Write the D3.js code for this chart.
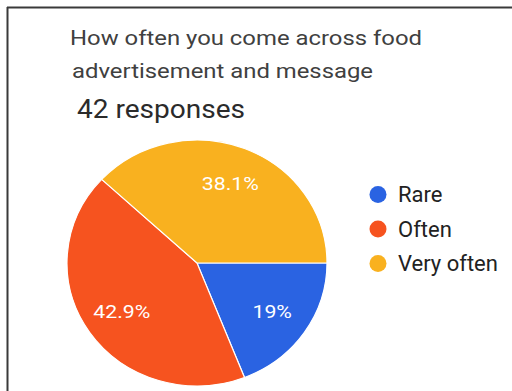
<!DOCTYPE html>
<html>
<head>
<meta charset="utf-8">
<script src="https://cdnjs.cloudflare.com/ajax/libs/d3/7.8.5/d3.min.js"></script>
<style>
  body { margin: 0; background: #fff; }
  text { font-family: Roboto, "Noto Sans", sans-serif; }
</style>
</head>
<body>
<div id="chart"></div>
<script>
// chart data
var categories = ["Rare", "Often", "Very often"];
var responses = [8, 18, 16];
var colors = ["#2a63e2", "#f6531f", "#f9b11f"];
var titleLines = ["How often you come across food", "advertisement and message"];
var subtitle = "42 responses";

var width = 512, height = 391;
var cx = 197, cy = 263, rx = 130, ry = 123;

var svg = d3.select("#chart").append("svg")
    .attr("width", width)
    .attr("height", height);

// frame (top + left edges of the screenshot card)
svg.append("line")
    .attr("x1", 7).attr("y1", 7.5).attr("x2", width).attr("y2", 7.5)
    .attr("stroke", "#3a3a3a").attr("stroke-width", 2);
svg.append("line")
    .attr("x1", 7.5).attr("y1", 7).attr("x2", 7.5).attr("y2", height)
    .attr("stroke", "#3a3a3a").attr("stroke-width", 2);

// titles (the screenshot is a bit stretched sideways, so fit widths)
var titleLayout = [{x: 70, y: 45, len: 352}, {x: 72, y: 78, len: 301}];
svg.selectAll(".title")
    .data(titleLines)
  .enter().append("text")
    .attr("class", "title")
    .attr("x", function(d, i) { return titleLayout[i].x; })
    .attr("y", function(d, i) { return titleLayout[i].y; })
    .attr("textLength", function(d, i) { return titleLayout[i].len; })
    .attr("lengthAdjust", "spacingAndGlyphs")
    .attr("fill", "#404040")
    .attr("font-size", 21)
    .text(function(d) { return d; });

svg.append("text")
    .attr("x", 77)
    .attr("y", 118)
    .attr("textLength", 168)
    .attr("lengthAdjust", "spacingAndGlyphs")
    .attr("fill", "#2b2b2b")
    .attr("font-size", 26)
    .text(subtitle);

var data = categories.map(function(c, i) { return {name: c, value: responses[i], color: colors[i]}; });
var total = d3.sum(responses);

var pie = d3.pie()
    .sort(null)
    .value(function(d) { return d.value; })
    .startAngle(Math.PI / 2)
    .endAngle(Math.PI / 2 + 2 * Math.PI);

var arcs = pie(data);

var arc = d3.arc().innerRadius(0).outerRadius(ry);

// slightly stretched pie, like the screenshot
var g = svg.append("g")
    .attr("transform", "translate(" + cx + "," + cy + ") scale(" + (rx / ry) + ",1)");

g.selectAll("path")
    .data(arcs)
  .enter().append("path")
    .attr("d", arc)
    .attr("fill", function(d) { return d.data.color; })
    .attr("stroke", "#fff")
    .attr("stroke-width", 1.2)
    .attr("vector-effect", "non-scaling-stroke");

var labelArc = d3.arc().innerRadius(ry * 0.7).outerRadius(ry * 0.7);
var fmt = function(v) {
  var p = Math.round(v / total * 1000) / 10;
  return (p % 1 == 0 ? p.toFixed(0) : p.toFixed(1)) + "%";
};

svg.selectAll(".slice-label")
    .data(arcs)
  .enter().append("text")
    .attr("class", "slice-label")
    .attr("transform", function(d) {
      var c = labelArc.centroid(d);
      return "translate(" + (cx + c[0] * rx / ry) + "," + (cy + c[1]) + ") scale(1.15,1)";
    })
    .attr("dy", "0.36em")
    .attr("text-anchor", "middle")
    .attr("fill", "#fff")
    .attr("font-size", 18.5)
    .text(function(d) { return fmt(d.data.value); });

// legend
var legend = svg.selectAll(".legend")
    .data(data)
  .enter().append("g")
    .attr("class", "legend")
    .attr("transform", function(d, i) { return "translate(378," + (194.5 + i * 34.5) + ")"; });

legend.append("circle")
    .attr("r", 8.5)
    .attr("fill", function(d) { return d.color; });

legend.append("text")
    .attr("x", 20)
    .attr("dy", "0.36em")
    .attr("fill", "#222")
    .attr("font-size", 22)
    .text(function(d) { return d.name; });
</script>
</body>
</html>
